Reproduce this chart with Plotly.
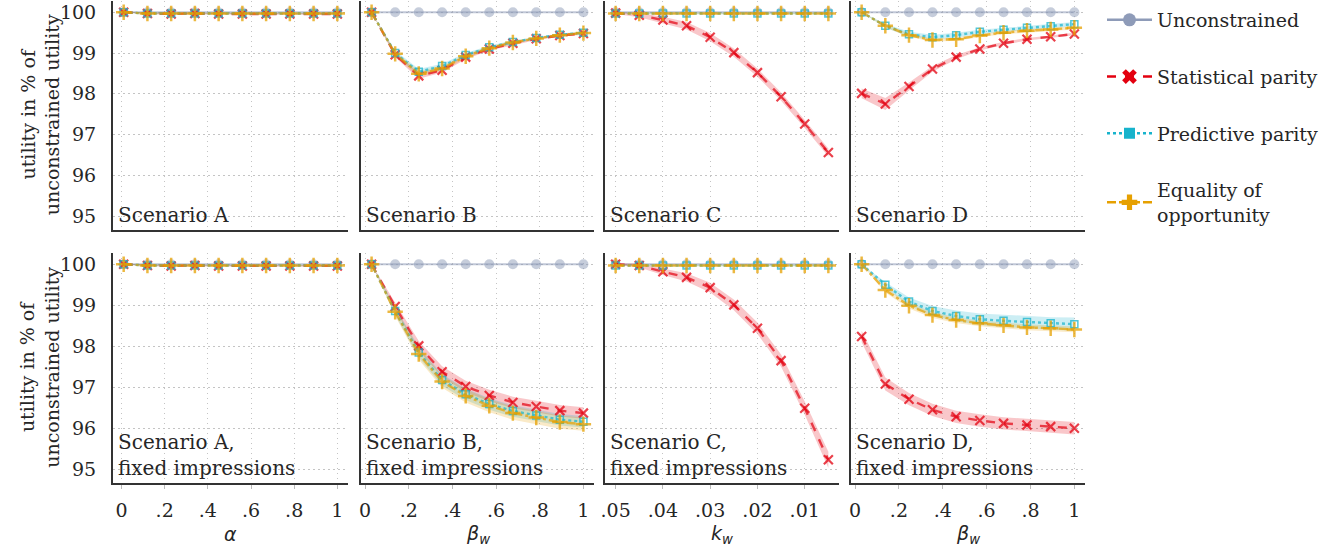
import plotly.graph_objects as go

W, H = 1343, 554

# ---------------- data ----------------
x_alpha = [0.01, 0.12, 0.23, 0.34, 0.45, 0.56, 0.67, 0.78, 0.89, 1.0]
x_beta = [0.03, 0.138, 0.246, 0.353, 0.461, 0.569, 0.677, 0.784, 0.892, 1.0]
x_k = [0.05, 0.045, 0.04, 0.035, 0.03, 0.025, 0.02, 0.015, 0.01, 0.005]

series_names = ["Unconstrained", "Statistical parity", "Predictive parity", "Equality of<br>opportunity"]
scenario_labels_top = ["Scenario A", "Scenario B", "Scenario C", "Scenario D"]
scenario_labels_bottom = ["Scenario A,<br>fixed impressions", "Scenario B,<br>fixed impressions",
                          "Scenario C,<br>fixed impressions", "Scenario D,<br>fixed impressions"]
x_titles = ["<i>α</i>", "<i>β<sub>w</sub></i>", "<i>k<sub>w</sub></i>", "<i>β<sub>w</sub></i>"]
tick_vals_unit = [0, 0.2, 0.4, 0.6, 0.8, 1.0]
tick_text_unit = ["0", ".2", ".4", ".6", ".8", "1"]
tick_vals_k = [0.05, 0.04, 0.03, 0.02, 0.01]
tick_text_k = [".05", ".04", ".03", ".02", ".01"]
y_ticks = [95, 96, 97, 98, 99, 100]

unconstrained = [100.0, 100.0, 100.0, 100.0, 100.0, 100.0, 100.0, 100.0, 100.0, 100.0]

# Scenario A
A_top_sp = [100.0, 99.97, 99.96, 99.97, 99.96, 99.96, 99.96, 99.96, 99.96, 99.96]
A_top_pp = [100.0, 99.97, 99.97, 99.97, 99.97, 99.97, 99.97, 99.97, 99.97, 99.97]
A_top_eo = [100.0, 99.97, 99.97, 99.97, 99.97, 99.97, 99.97, 99.97, 99.97, 99.97]
A_bot_sp = [100.0, 99.97, 99.96, 99.97, 99.96, 99.96, 99.96, 99.96, 99.96, 99.96]
A_bot_pp = [100.0, 99.97, 99.97, 99.97, 99.97, 99.97, 99.97, 99.97, 99.97, 99.97]
A_bot_eo = [100.0, 99.97, 99.97, 99.97, 99.97, 99.97, 99.97, 99.97, 99.97, 99.97]
# Scenario B
B_top_sp = [100.0, 98.96, 98.44, 98.58, 98.90, 99.10, 99.24, 99.35, 99.43, 99.48]
B_top_pp = [100.0, 99.00, 98.54, 98.68, 98.95, 99.14, 99.27, 99.37, 99.45, 99.50]
B_top_eo = [100.0, 98.98, 98.49, 98.62, 98.92, 99.12, 99.26, 99.36, 99.44, 99.49]
B_bot_sp = [100.0, 98.97, 98.01, 97.38, 97.02, 96.80, 96.63, 96.53, 96.43, 96.37]
B_bot_pp = [100.0, 98.86, 97.85, 97.18, 96.83, 96.59, 96.42, 96.31, 96.21, 96.16]
B_bot_eo = [100.0, 98.84, 97.81, 97.14, 96.79, 96.55, 96.37, 96.26, 96.15, 96.10]
# Scenario C
C_top_sp = [99.98, 99.93, 99.81, 99.67, 99.39, 99.01, 98.52, 97.93, 97.26, 96.56]
C_top_pp = [99.97, 99.97, 99.97, 99.97, 99.97, 99.97, 99.97, 99.97, 99.97, 99.97]
C_top_eo = [99.97, 99.97, 99.97, 99.97, 99.97, 99.97, 99.97, 99.97, 99.97, 99.97]
C_bot_sp = [100.0, 99.97, 99.82, 99.68, 99.43, 99.01, 98.44, 97.65, 96.49, 95.23]
C_bot_pp = [99.97, 99.97, 99.97, 99.97, 99.97, 99.97, 99.97, 99.97, 99.97, 99.97]
C_bot_eo = [99.97, 99.97, 99.97, 99.97, 99.97, 99.97, 99.97, 99.97, 99.97, 99.97]
# Scenario D
D_top_sp = [98.01, 97.75, 98.18, 98.61, 98.90, 99.10, 99.24, 99.34, 99.40, 99.47]
D_top_pp = [100.0, 99.67, 99.46, 99.39, 99.44, 99.52, 99.57, 99.62, 99.66, 99.71]
D_top_eo = [100.0, 99.67, 99.44, 99.32, 99.34, 99.43, 99.50, 99.55, 99.58, 99.62]
D_bot_sp = [98.24, 97.08, 96.71, 96.45, 96.28, 96.19, 96.12, 96.08, 96.04, 96.00]
D_bot_pp = [100.0, 99.50, 99.09, 98.86, 98.74, 98.66, 98.62, 98.59, 98.56, 98.54]
D_bot_eo = [100.0, 99.37, 98.99, 98.76, 98.64, 98.56, 98.51, 98.46, 98.44, 98.41]

# confidence half-widths
ci_flat = [0.0, 0.02, 0.02, 0.02, 0.02, 0.02, 0.02, 0.02, 0.02, 0.02]
ci_B_top = [0.0, 0.06, 0.07, 0.06, 0.05, 0.04, 0.04, 0.03, 0.03, 0.03]
ci_C_top_sp = [0.02, 0.05, 0.08, 0.09, 0.10, 0.10, 0.10, 0.10, 0.10, 0.10]
ci_D_top_sp = [0.12, 0.15, 0.10, 0.07, 0.05, 0.04, 0.04, 0.03, 0.03, 0.03]
ci_D_top_pp = [0.0, 0.05, 0.06, 0.06, 0.06, 0.05, 0.05, 0.05, 0.05, 0.05]
ci_D_top_eo = [0.0, 0.04, 0.04, 0.04, 0.04, 0.04, 0.04, 0.04, 0.04, 0.04]
ci_B_bot_sp = [0.0, 0.08, 0.12, 0.13, 0.14, 0.14, 0.14, 0.14, 0.14, 0.14]
ci_B_bot_pp = [0.0, 0.10, 0.13, 0.14, 0.14, 0.14, 0.14, 0.14, 0.14, 0.14]
ci_B_bot_eo = [0.0, 0.10, 0.14, 0.15, 0.16, 0.16, 0.16, 0.16, 0.16, 0.16]
ci_C_bot_sp = [0.02, 0.05, 0.08, 0.10, 0.12, 0.13, 0.14, 0.15, 0.16, 0.20]
ci_D_bot_sp = [0.14, 0.16, 0.15, 0.15, 0.15, 0.15, 0.15, 0.15, 0.15, 0.15]
ci_D_bot_pp = [0.0, 0.07, 0.10, 0.12, 0.13, 0.14, 0.15, 0.15, 0.15, 0.16]
ci_D_bot_eo = [0.0, 0.06, 0.07, 0.07, 0.07, 0.07, 0.07, 0.07, 0.07, 0.07]

panels = [
    (0, 0, x_alpha, [A_top_sp, A_top_pp, A_top_eo], [ci_flat, ci_flat, ci_flat]),
    (0, 1, x_beta, [B_top_sp, B_top_pp, B_top_eo], [ci_B_top, ci_B_top, ci_B_top]),
    (0, 2, x_k, [C_top_sp, C_top_pp, C_top_eo], [ci_C_top_sp, ci_flat, ci_flat]),
    (0, 3, x_beta, [D_top_sp, D_top_pp, D_top_eo], [ci_D_top_sp, ci_D_top_pp, ci_D_top_eo]),
    (1, 0, x_alpha, [A_bot_sp, A_bot_pp, A_bot_eo], [ci_flat, ci_flat, ci_flat]),
    (1, 1, x_beta, [B_bot_sp, B_bot_pp, B_bot_eo], [ci_B_bot_sp, ci_B_bot_pp, ci_B_bot_eo]),
    (1, 2, x_k, [C_bot_sp, C_bot_pp, C_bot_eo], [ci_C_bot_sp, ci_flat, ci_flat]),
    (1, 3, x_beta, [D_bot_sp, D_bot_pp, D_bot_eo], [ci_D_bot_sp, ci_D_bot_pp, ci_D_bot_eo]),
]

# ---------------- style ----------------
RGB = {
    "un": (142, 155, 184),
    "sp": (227, 0, 15),
    "pp": (23, 179, 204),
    "eo": (230, 160, 0),
}
def rgba(k, a):
    r, g, b = RGB[k]
    return f"rgba({r},{g},{b},{a})"

FONT = "DejaVu Serif"
TXT = "#262626"
FS = 19
GRID = dict(showgrid=True, gridcolor="#c4c4c4", griddash="1.5px,3.5px", gridwidth=1.3)

col_dom = [(113, 348), (361, 594), (605, 839), (851, 1085)]
row_dom = [(0.9, 229.5), (252.8, 482.8)]  # top, bottom in px from top
x_ranges = {"alpha": [-0.0395, 1.0495], "beta": [-0.0185, 1.0485], "k": [0.05225, 0.00275]}
Y_RANGE = [94.67, 100.28]

fig = go.Figure()
layout = dict(
    width=W, height=H, margin=dict(l=0, r=0, t=0, b=0, autoexpand=False),
    paper_bgcolor="white", plot_bgcolor="white",
    font=dict(family=FONT, size=FS, color=TXT),
    showlegend=True,
)

annotations = []
for idx, (r, c, xs, vals, cis) in enumerate(panels):
    n = idx + 1
    xa = "x" if n == 1 else f"x{n}"
    ya = "y" if n == 1 else f"y{n}"
    xkey = "xaxis" if n == 1 else f"xaxis{n}"
    ykey = "yaxis" if n == 1 else f"yaxis{n}"
    x0, x1 = col_dom[c]
    t0, t1 = row_dom[r]
    if xs is x_alpha:
        xr = x_ranges["alpha"]
    elif xs is x_k:
        xr = x_ranges["k"]
    else:
        xr = x_ranges["beta"]
    if xs is x_k:
        tv, tt = tick_vals_k, tick_text_k
    else:
        tv, tt = tick_vals_unit, tick_text_unit
    layout[xkey] = dict(
        domain=[x0 / W, x1 / W], anchor=ya, range=xr, automargin=False,
        tickmode="array", tickvals=tv, ticktext=tt,
        showticklabels=(r == 1), ticks="outside" if r == 1 else "", ticklen=4,
        tickcolor="#bbbbbb", ticklabelstandoff=5,
        showline=True, linecolor="#333333", linewidth=2, zeroline=False,
        tickfont=dict(family=FONT, size=FS, color=TXT), **GRID,
    )
    layout[ykey] = dict(
        domain=[1 - t1 / H, 1 - t0 / H], anchor=xa, range=Y_RANGE, automargin=False,
        tickmode="array", tickvals=y_ticks, ticktext=[str(v) for v in y_ticks],
        showticklabels=(c == 0), ticks="", ticklabelstandoff=11,
        showline=True, linecolor="#333333", linewidth=2, zeroline=False,
        tickfont=dict(family=FONT, size=FS, color=TXT), **GRID,
    )

    fig.add_trace(go.Scatter(
        x=xs, y=unconstrained, xaxis=xa, yaxis=ya, mode="lines+markers", showlegend=False,
        line=dict(color=rgba("un", 0.55), width=2),
        marker=dict(symbol="circle", size=10, color=rgba("un", 0.5)),
        hoverinfo="skip"))

    specs = [
        ("sp", "dash", "x-thin", 9, 2.2),
        ("pp", "dot", "square-open", 7, 1.5),
        ("eo", "dashdot", "cross-thin", 11, 2.5),
    ]
    for (key, dash, sym, sz, lw), v, ci in zip(specs, vals, cis):
        upper = [a + b for a, b in zip(v, ci)]
        lower = [a - b for a, b in zip(v, ci)]
        fig.add_trace(go.Scatter(
            x=list(xs) + list(xs)[::-1], y=upper + lower[::-1], xaxis=xa, yaxis=ya,
            mode="lines", fill="toself", fillcolor=rgba(key, 0.22), line=dict(width=0),
            showlegend=False, hoverinfo="skip"))
    for (key, dash, sym, sz, lw), v in zip(specs, vals):
        fig.add_trace(go.Scatter(
            x=xs, y=v, xaxis=xa, yaxis=ya, mode="lines+markers", showlegend=False,
            line=dict(color=rgba(key, 0.7), width=2.4, dash=dash),
            marker=dict(symbol=sym, size=sz, color=rgba(key, 0.75),
                        line=dict(color=rgba(key, 0.75), width=lw)),
            hoverinfo="skip"))

    label = scenario_labels_top[c] if r == 0 else scenario_labels_bottom[c]
    annotations.append(dict(
        text=label, xref=f"{xa} domain", yref=f"{ya} domain", x=0.0, y=0.0,
        xanchor="left", yanchor="bottom", showarrow=False, align="left",
        font=dict(family=FONT, size=20, color=TXT), xshift=3, yshift=1))

for c in range(4):
    x0, x1 = col_dom[c]
    annotations.append(dict(
        text=x_titles[c], xref="paper", yref="paper", x=(x0 + x1) / 2 / W, y=1 - 534 / H,
        xanchor="center", yanchor="middle", showarrow=False,
        font=dict(family="DejaVu Sans", size=FS, color=TXT)))
for r in range(2):
    t0, t1 = row_dom[r]
    annotations.append(dict(
        text="utility in % of<br>unconstrained utility", xref="paper", yref="paper",
        x=40 / W, y=1 - (t0 + t1) / 2 / H, xanchor="center", yanchor="middle",
        textangle=-90, showarrow=False, font=dict(family=FONT, size=FS, color=TXT)))

leg_specs = [
    ("un", "solid", "circle", 13),
    ("sp", "dash", "x", 13),
    ("pp", "dot", "square", 11),
    ("eo", "dashdot", "cross", 13),
]
for name, (key, dash, sym, sz) in zip(series_names, leg_specs):
    fig.add_trace(go.Scatter(
        x=[None], y=[None], mode="lines+markers", name=name, legendgroup=name,
        line=dict(color=rgba(key, 1), width=2.5, dash=dash),
        marker=dict(symbol=sym, size=sz, color=rgba(key, 1))))

layout["legend"] = dict(
    x=1102 / W, y=1 - 1 / H, xanchor="left", yanchor="top",
    font=dict(family=FONT, size=FS, color=TXT), bgcolor="rgba(0,0,0,0)",
    tracegroupgap=29, itemwidth=45,
)
layout["annotations"] = annotations
fig.update_layout(**layout)
fig.write_html("out.html", config={"displayModeBar": False},
               post_script="document.body.style.margin='0';document.body.style.padding='0';")
